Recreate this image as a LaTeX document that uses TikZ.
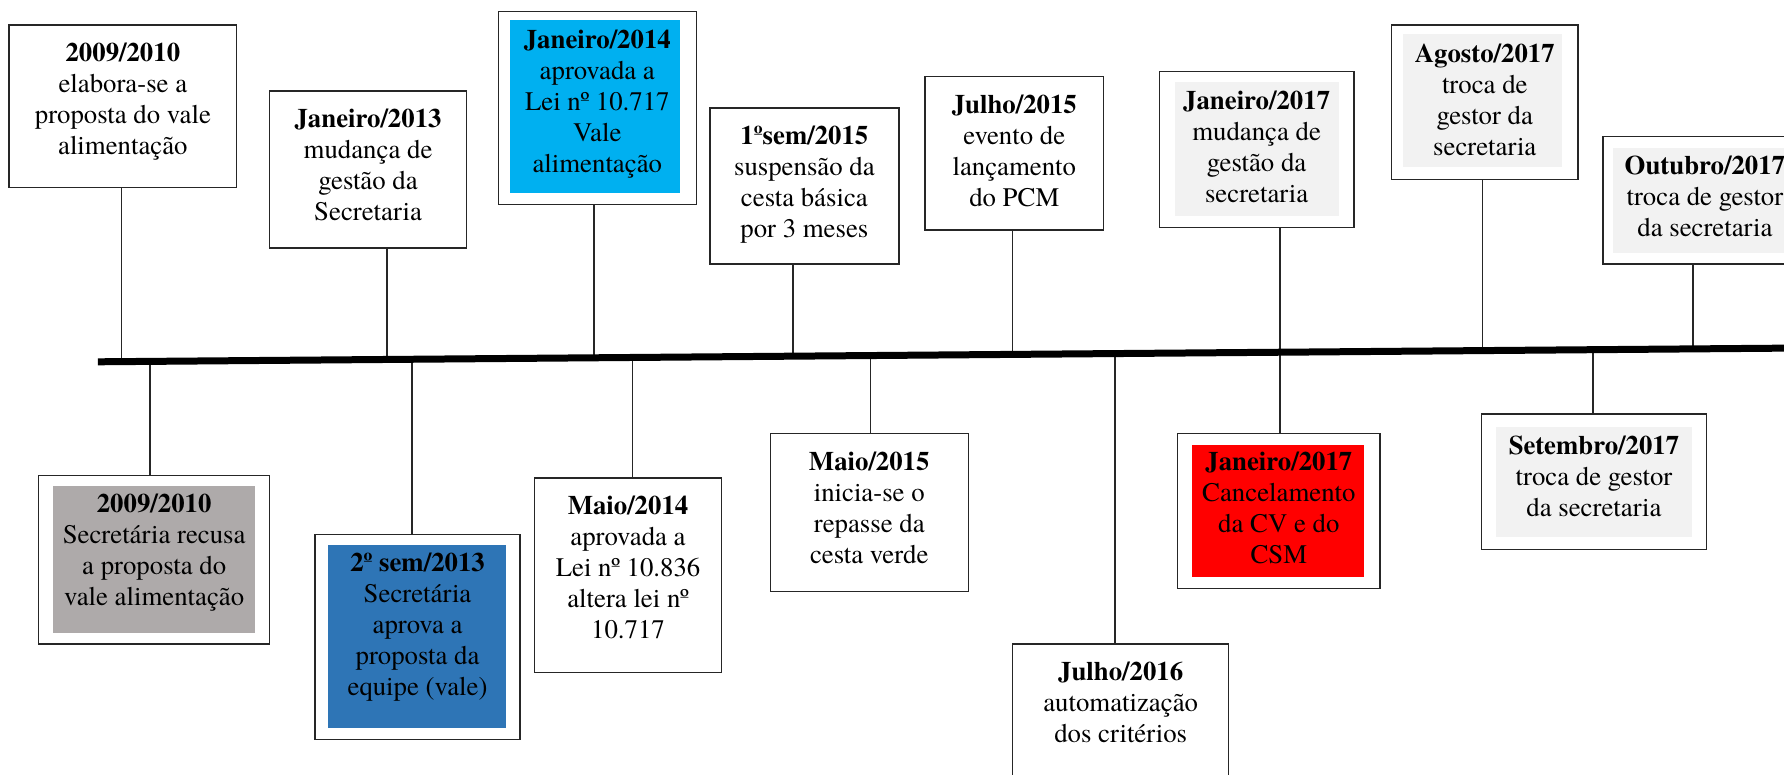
\documentclass[tikz,border=0pt]{standalone}
\usepackage{fontspec}
\setmainfont{TeX Gyre Termes}
\usetikzlibrary{positioning,fit}
\definecolor{azulclaro}{HTML}{00B0F0}
\definecolor{azulescuro}{HTML}{2E75B6}
\definecolor{cinza}{HTML}{AEAAAA}
\definecolor{cinzaclaro}{HTML}{F2F2F2}
\definecolor{vermelho}{HTML}{FF0000}
\tikzset{
  caixa/.style={draw=black!85,line width=.7pt,fill=white,inner sep=0pt},
  fundo/.style={inner sep=0pt},
  texto/.style={align=center,inner sep=0pt,font=\fontsize{13.4}{15.5}\selectfont},
  ligacao/.style={line width=.7pt,draw=black!85},
  eixo/.style={line width=3.5pt}
}
\begin{document}
\begin{tikzpicture}[x=.569pt,y=-.569pt]
\useasboundingbox (0,0) rectangle (1568,681);
% Caixas de cima
\node[caixa,fit={(8,22) (208,165)}] (c1) {};
\node[texto,below=9.3pt of c1.north] (t1) {\textbf{2009/2010}\\elabora-se a\\proposta do vale\\alimentação};
\node[caixa,fit={(237,80) (410,218)}] (c2) {};
\node[texto,below=9.3pt of c2.north] (t2) {\textbf{Janeiro/2013}\\mudança de\\gestão da\\Secretaria};
\node[caixa,fit={(438,10) (612,180)}] (c3) {};
\node[fundo,fill=azulclaro,fit={(448,18) (598,170)}] (f3) {};
\node[texto,below=9.3pt of c3.north] (t3) {\textbf{Janeiro/2014}\\aprovada a\\Lei nº 10.717\\Vale\\alimentação};
\node[caixa,fit={(624,95) (790,232)}] (c4) {};
\node[texto,below=9.3pt of c4.north] (t4) {\textbf{1ºsem/2015}\\suspensão da\\cesta básica\\por 3 meses};
\node[caixa,fit={(813,67) (970,202)}] (c5) {};
\node[texto,below=9.3pt of c5.north] (t5) {\textbf{Julho/2015}\\evento de\\lançamento\\do PCM};
\node[caixa,fit={(1019,63) (1190,200)}] (c6) {};
\node[fundo,fill=cinzaclaro,fit={(1033,72) (1177,190)}] (f6) {};
\node[texto,below=9.8pt of c6.north] (t6) {\textbf{Janeiro/2017}\\mudança de\\gestão da\\secretaria};
\node[caixa,fit={(1223,22) (1387,158)}] (c7) {};
\node[fundo,fill=cinzaclaro,fit={(1233,30) (1373,147)}] (f7) {};
\node[texto,below=9.8pt of c7.north] (t7) {\textbf{Agosto/2017}\\troca de\\gestor da\\secretaria};
\node[caixa,fit={(1409,120) (1588,232)}] (c8) {};
\node[fundo,fill=cinzaclaro,fit={(1418,130) (1578,222)}] (f8) {};
\node[texto,below=9.8pt of c8.north] (t8) {\textbf{Outubro/2017}\\troca de gestor\\da secretaria};
% Caixas de baixo
\node[caixa,fit={(34,418) (237,566)}] (b1) {};
\node[fundo,fill=cinza,fit={(47,427) (224,556)}] (g1) {};
\node[texto,below=9.3pt of b1.north] (s1) {\textbf{2009/2010}\\Secretária recusa\\a proposta do\\vale alimentação};
\node[caixa,fit={(277,470) (457,650)}] (b2) {};
\node[fundo,fill=azulescuro,fit={(288,479) (445,640)}] (g2) {};
\node[texto,below=9.3pt of b2.north] (s2) {\textbf{2º sem/2013}\\Secretária\\aprova a\\proposta da\\equipe (vale)};
\node[caixa,fit={(470,420) (634,591)}] (b3) {};
\node[texto,below=9.3pt of b3.north] (s3) {\textbf{Maio/2014}\\aprovada a\\Lei nº 10.836\\altera lei nº\\10.717};
\node[caixa,fit={(677,381) (851,520)}] (b4) {};
\node[texto,below=9.3pt of b4.north] (s4) {\textbf{Maio/2015}\\inicia-se o\\repasse da\\cesta verde};
\node[caixa,fit={(890,566) (1080,700)}] (b5) {};
\node[texto,below=9.3pt of b5.north] (s5) {\textbf{Julho/2016}\\automatização\\dos critérios};
\node[caixa,fit={(1035,381) (1213,517)}] (b6) {};
\node[fundo,fill=vermelho,fit={(1048,391) (1199,507)}] (g6) {};
\node[texto,below=9.3pt of b6.north] (s6) {\textbf{Janeiro/2017}\\Cancelamento\\da CV e do\\CSM};
\node[caixa,fit={(1302,364) (1500,483)}] (b7) {};
\node[fundo,fill=cinzaclaro,fit={(1315,375) (1487,472)}] (g7) {};
\node[texto,below=11pt of b7.north] (s7) {\textbf{Setembro/2017}\\troca de gestor\\da secretaria};
% Pontos na linha do tempo
\coordinate (ini) at (86,318);
\coordinate (fim) at (1568,306);
\coordinate (e1) at (107,317.8);
\coordinate (e2) at (340,315.9);
\coordinate (e3) at (522,314.5);
\coordinate (e4) at (697,313.1);
\coordinate (e5) at (890,311.5);
\coordinate (e6) at (1125,309.6);
\coordinate (e7) at (1303,308.1);
\coordinate (e8) at (1488,306.6);
\coordinate (p1) at (132,317.6);
\coordinate (p2) at (362,315.8);
\coordinate (p3) at (556,314.2);
\coordinate (p4) at (765,312.5);
\coordinate (p5) at (980,310.8);
\coordinate (p6) at (1125,309.6);
\coordinate (p7) at (1400,307.4);
% Ligacoes
\draw[ligacao] (e1 |- c1.south) -- (e1);
\draw[ligacao] (e2 |- c2.south) -- (e2);
\draw[ligacao] (e3 |- c3.south) -- (e3);
\draw[ligacao] (e4 |- c4.south) -- (e4);
\draw[ligacao] (e5 |- c5.south) -- (e5);
\draw[ligacao] (e6 |- c6.south) -- (e6);
\draw[ligacao] (e7 |- c7.south) -- (e7);
\draw[ligacao] (e8 |- c8.south) -- (e8);
\draw[ligacao] (p1) -- (p1 |- b1.north);
\draw[ligacao] (p2) -- (p2 |- b2.north);
\draw[ligacao] (p3) -- (p3 |- b3.north);
\draw[ligacao] (p4) -- (p4 |- b4.north);
\draw[ligacao] (p5) -- (p5 |- b5.north);
\draw[ligacao] (p6) -- (p6 |- b6.north);
\draw[ligacao] (p7) -- (p7 |- b7.north);
% Linha do tempo
\draw[eixo] (ini) -- (fim);
\end{tikzpicture}
\end{document}
